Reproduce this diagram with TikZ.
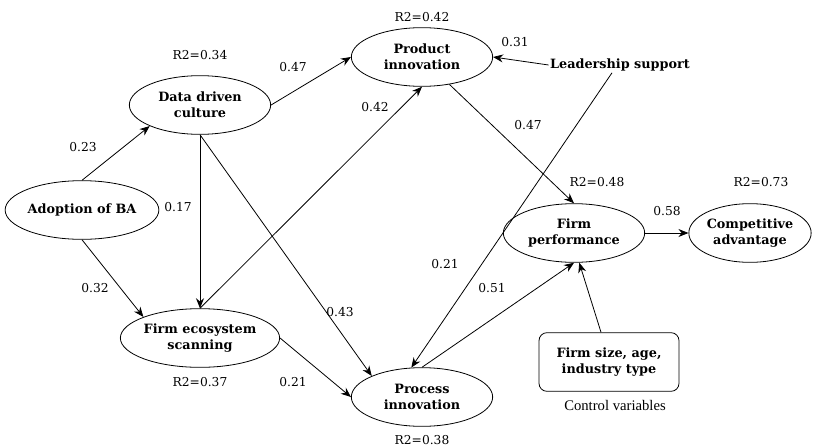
\documentclass[tikz,border=0pt]{standalone}
\usepackage{fontspec}
\setmainfont{DejaVu Serif}
\newfontfamily\ctrlfont{Liberation Serif}
\usetikzlibrary{arrows.meta,shapes.geometric}

\begin{document}
\begin{tikzpicture}[x=0.75pt, y=-0.75pt,
		every node/.style={font=\fontsize{9.2}{11}\selectfont, inner sep=1pt},
		construct/.style={draw, ellipse, line width=0.6pt, minimum width=106pt, minimum height=44pt, inner sep=0pt, align=center, font=\fontsize{9.6}{12}\selectfont\bfseries},
		effect/.style={-{Stealth[length=7.5pt,width=6pt]}, line width=0.6pt}]
		\useasboundingbox (0,0) rectangle (820,446);

		\node at (82, 210) [construct] (adopt) {Adoption of BA};
		\node at (200, 105) [construct] (culture) {Data driven\\culture};
		\node at (200, 338) [construct] (scan) {Firm ecosystem\\scanning};
		\node at (422, 57) [construct] (prodinn) {Product\\innovation};
		\node at (422, 397) [construct] (procinn) {Process\\innovation};
		\node at (574, 233) [construct] (perf) {Firm\\performance};
		\node at (750, 233) [construct, minimum width=91pt] (compadv) {Competitive\\advantage};
		\node at (620, 65) [font=\fontsize{9.6}{12}\selectfont\bfseries] (leader) {Leadership support};
		\node at (609, 362) [draw, rounded corners=6pt, line width=0.6pt, minimum width=105pt, minimum height=44pt, align=center, font=\fontsize{9.6}{12}\selectfont\bfseries] (ctrl) {Firm size, age,\\industry type};
		\node at (615, 405) [font=\ctrlfont\fontsize{11}{13}\selectfont] (ctrllabel) {Control variables};

		\node at (200, 55) (r2culture) {R2=0.34};
		\node at (422, 17) (r2prodinn) {R2=0.42};
		\node at (200, 382) (r2scan) {R2=0.37};
		\node at (422, 440) (r2procinn) {R2=0.38};
		\node at (597, 182) (r2perf) {R2=0.48};
		\node at (761, 182) (r2compadv) {R2=0.73};

		\draw [effect] (adopt.north) -- (culture.south west);
		\draw [effect] (adopt.south) -- (scan.north west);
		\draw [effect] (culture.east) -- (prodinn.west);
		\draw [effect] (culture.south) -- (scan.north);
		\draw [effect] (culture.south) -- (procinn.north west);
		\draw [effect] (scan.north) -- (prodinn.south);
		\draw [effect] (scan.east) -- (procinn.west);
		\draw [effect] (leader.west) -- (prodinn.east);
		\draw [effect] ([xshift=-6pt]leader.south) -- (procinn.110);
		\draw [effect] (prodinn.-45) -- (perf.north);
		\draw [effect] (procinn.north) -- (perf.south);
		\draw [effect] ([xshift=-6pt]ctrl.north) -- (perf.-80);
		\draw [effect] (perf.east) -- (compadv.west);

		\node at (83, 147) (b1) {0.23};
		\node at (95, 288) (b2) {0.32};
		\node at (293, 67) (b3) {0.47};
		\node at (178, 207) (b4) {0.17};
		\node at (340, 312) (b5) {0.43};
		\node at (375, 107) (b6) {0.42};
		\node at (293, 382) (b7) {0.21};
		\node at (515, 42) (b8) {0.31};
		\node at (445, 264) (b9) {0.21};
		\node at (528, 125) (b10) {0.47};
		\node at (492, 288) (b11) {0.51};
		\node at (667, 211) (b12) {0.58};
	\end{tikzpicture}
\end{document}
